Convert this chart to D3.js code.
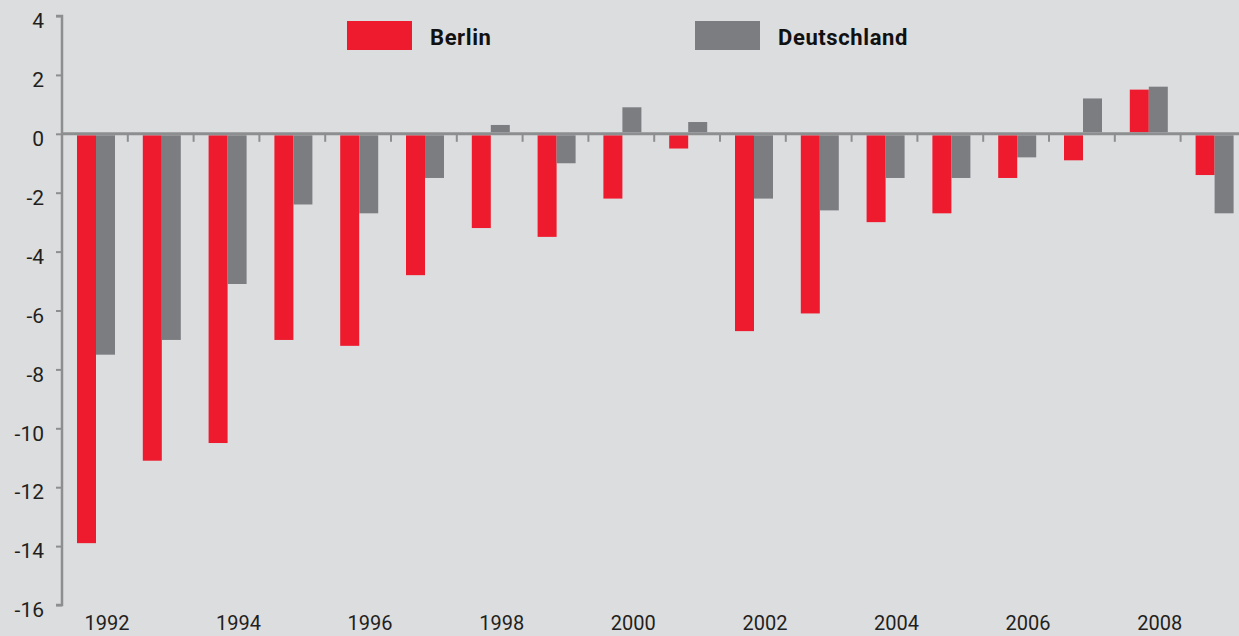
<!DOCTYPE html>
<html>
<head>
<meta charset="utf-8">
<script src="https://cdn.jsdelivr.net/npm/d3@7"></script>
<style>
  html, body { margin: 0; padding: 0; background: #dcdddf; }
  svg { display: block; }
</style>
</head>
<body>
<svg id="chart" width="1239" height="636"></svg>
<script>
// Data
var years = [1992, 1993, 1994, 1995, 1996, 1997, 1998, 1999, 2000,
             2001, 2002, 2003, 2004, 2005, 2006, 2007, 2008, 2009];
var berlin = [-13.9, -11.1, -10.5, -7.0, -7.2, -4.8, -3.2, -3.5, -2.2,
              -0.5, -6.7, -6.1, -3.0, -2.7, -1.5, -0.9, 1.5, -1.4];
var deutschland = [-7.5, -7.0, -5.1, -2.4, -2.7, -1.5, 0.3, -1.0, 0.9,
                   0.4, -2.2, -2.6, -1.5, -1.5, -0.8, 1.2, 1.6, -2.7];
var seriesNames = ['Berlin', 'Deutschland'];
var yTicks = [4, 2, 0, -2, -4, -6, -8, -10, -12, -14, -16];
var labelYears = [1992, 1994, 1996, 1998, 2000, 2002, 2004, 2006, 2008];

var colors = { Berlin: '#ee1b2e', Deutschland: '#7c7d81' };
var axisColor = '#8d8e90';
var textColor = '#231f20';

var svg = d3.select('#chart');

var data = years.map(function (y, i) {
  return { year: y, values: [
    { key: 'Berlin', value: berlin[i] },
    { key: 'Deutschland', value: deutschland[i] }
  ] };
});

// Scales
var x0 = d3.scaleBand()
  .domain(years)
  .range([62, 62 + 18 * 65.8])
  .padding(0);

var x1 = d3.scaleBand()
  .domain(seriesNames)
  .range([15, 53]);

var y = d3.scaleLinear()
  .domain([-16, 4])
  .range([605, 16]);

// Bars
var groups = svg.append('g').selectAll('g')
    .data(data)
    .enter()
  .append('g')
    .attr('transform', function (d) { return 'translate(' + x0(d.year) + ',0)'; });

groups.selectAll('rect')
    .data(function (d) { return d.values; })
    .enter()
  .append('rect')
    .attr('x', function (d) { return x1(d.key); })
    .attr('width', x1.bandwidth())
    .attr('y', function (d) { return d.value > 0 ? y(d.value) : y(0) + 1.5; })
    .attr('height', function (d) {
      return d.value > 0 ? y(0) - 1.5 - y(d.value) : y(d.value) - y(0) - 1.5;
    })
    .attr('fill', function (d) { return colors[d.key]; });

// Y axis
var yAxis = d3.axisLeft(y)
  .tickValues(yTicks)
  .tickSize(6)
  .tickPadding(12)
  .tickFormat(function (d) { return d; });

var yg = svg.append('g')
  .attr('transform', 'translate(62,0)')
  .call(yAxis);

yg.select('.domain').attr('stroke', axisColor).attr('stroke-width', 2.5)
  .attr('d', 'M-6,' + y(4) + 'H0V' + y(-16) + 'H-6');
yg.selectAll('.tick line').attr('stroke', axisColor).attr('stroke-width', 2);
yg.selectAll('.tick text')
  .attr('fill', textColor)
  .attr('font-family', 'Roboto, sans-serif')
  .attr('font-size', 21)
  .attr('dy', '0.75em')
  .attr('y', -4);

// Zero line
svg.append('line')
  .attr('x1', 62).attr('x2', 1239)
  .attr('y1', y(0)).attr('y2', y(0))
  .attr('stroke', axisColor)
  .attr('stroke-width', 3);

// Group separator ticks below the zero line
svg.append('g').selectAll('line')
    .data(years.slice(1))
    .enter()
  .append('line')
    .attr('x1', function (d) { return x0(d); })
    .attr('x2', function (d) { return x0(d); })
    .attr('y1', y(0))
    .attr('y2', y(0) + 8)
    .attr('stroke', axisColor)
    .attr('stroke-width', 2);

// X labels
svg.append('g').selectAll('text')
    .data(labelYears)
    .enter()
  .append('text')
    .attr('x', function (d) { return x0(d) + x0.bandwidth() / 2 + 12; })
    .attr('y', 630)
    .attr('text-anchor', 'middle')
    .attr('fill', textColor)
    .attr('font-family', 'Roboto, sans-serif')
    .attr('font-size', 20)
    .text(function (d) { return d; });

// Legend
var legendX = [347, 695];
var legend = svg.append('g').selectAll('g')
    .data(seriesNames)
    .enter()
  .append('g')
    .attr('transform', function (d, i) { return 'translate(' + legendX[i] + ',21)'; });

legend.append('rect')
  .attr('width', 65)
  .attr('height', 29)
  .attr('fill', function (d) { return colors[d]; });

legend.append('text')
  .attr('x', 83)
  .attr('y', 24)
  .attr('fill', '#111')
  .attr('font-family', 'Roboto, sans-serif')
  .attr('font-weight', 'bold')
  .attr('font-size', 22)
  .attr('letter-spacing', 0.6)
  .text(function (d) { return d; });
</script>
</body>
</html>
